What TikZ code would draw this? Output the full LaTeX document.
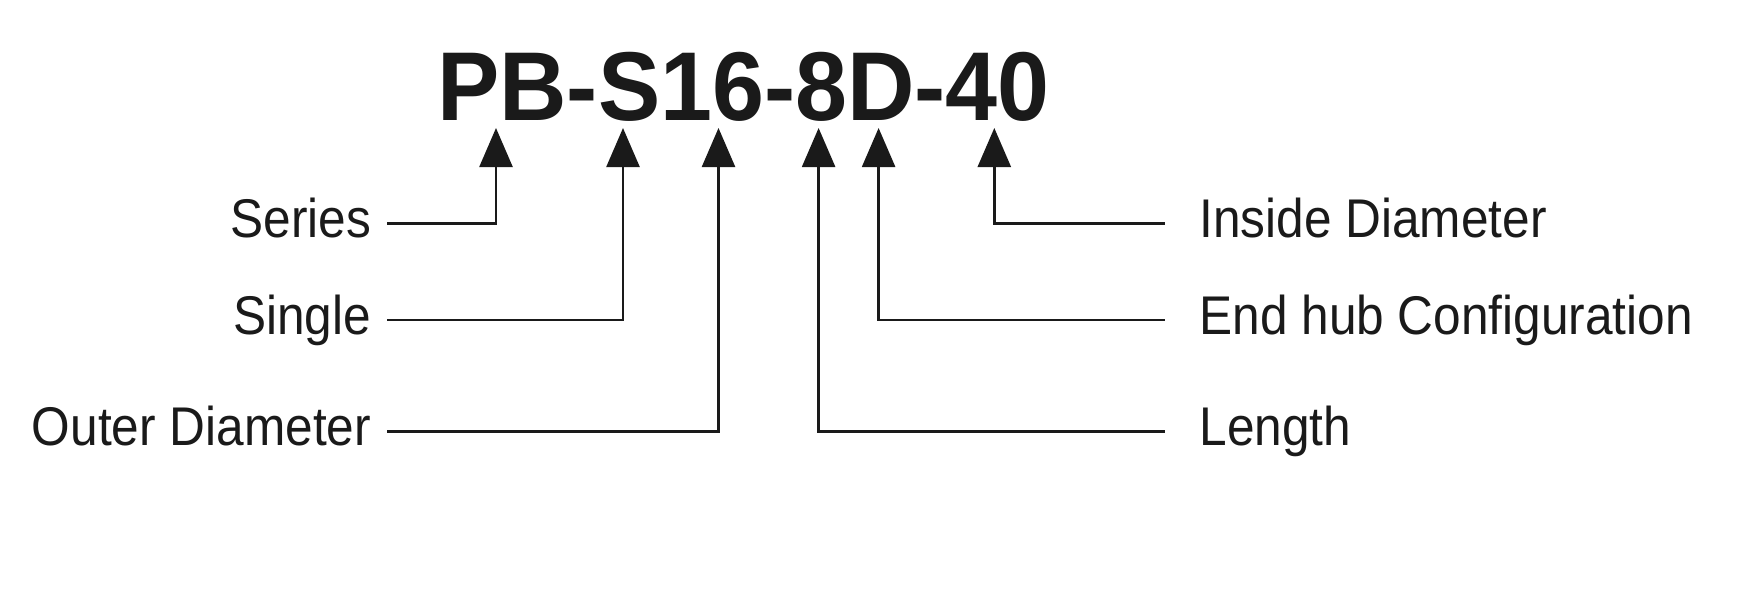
\documentclass[tikz,border=0pt]{standalone}
\usepackage{fontspec}
\setmainfont{Liberation Sans}
\newfontfamily\titlefont[FakeStretch=0.955]{Liberation Sans}
\newfontfamily\labfont[FakeStretch=0.91]{Liberation Sans}
\usetikzlibrary{arrows.meta}
\definecolor{ink}{HTML}{1A1A1A}
\begin{document}
\begin{tikzpicture}[x=1pt,y=-1pt,
  conn/.style={draw=ink, line width=2.5pt, -{Triangle[length=39pt,width=33pt]}},
  lab/.style={inner sep=0pt, text=ink, font=\labfont\fontsize{54.5}{60}\selectfont, text height=28pt, text depth=0pt},
  lableft/.style={lab, anchor=east, outer xsep=16pt},
  labright/.style={lab, anchor=west, outer xsep=35pt},
  titlestyle/.style={inner sep=0pt, text=ink, font=\titlefont\bfseries\fontsize{97.8}{100}\selectfont, anchor=base}]
\useasboundingbox (0,0) rectangle (1744,592);
\fill[white] (0,0) rectangle (1744,592);

\node[titlestyle] (title) at (743.5,120) {PB-S16-8D-40};

\coordinate (t1) at (496,128);
\coordinate (t2) at (623,128);
\coordinate (t3) at (718.5,128);
\coordinate (t4) at (818.6,128);
\coordinate (t5) at (878.6,128);
\coordinate (t6) at (994.3,128);

\node[lableft] (series) at (387,223.5) {Series};
\node[lableft] (single) at (387,320) {Single};
\node[lableft] (outer) at (387,431.5) {Outer Diameter};

\node[labright] (inside) at (1164.5,223.5) {Inside Diameter};
\node[labright] (endhub) at (1164.5,320) {End hub Configuration};
\node[labright] (length) at (1164.5,431.5) {Length};

\draw[conn] (series.east) -| (t1);
\draw[conn] (single.east) -| (t2);
\draw[conn] (outer.east) -| (t3);
\draw[conn] (length.west) -| (t4);
\draw[conn] (endhub.west) -| (t5);
\draw[conn] (inside.west) -| (t6);
\end{tikzpicture}
\end{document}
